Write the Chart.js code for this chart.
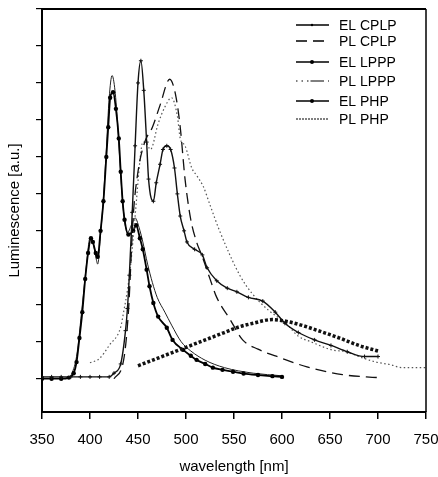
<!DOCTYPE html>
<html>
<head>
<meta charset="utf-8">
<script src="https://cdn.jsdelivr.net/npm/chart.js@4.4.0/dist/chart.umd.min.js"></script>
<style>
    html, body { margin: 0; padding: 0; background: #fff; }
</style>
</head>
<body>
<canvas id="plot" width="438" height="477"></canvas>
<script>
// series labels, in legend order
const seriesLabels = ['EL CPLP', 'PL CPLP', 'EL LPPP', 'PL LPPP', 'EL PHP', 'PL PHP'];
const xTicks = [350, 400, 450, 500, 550, 600, 650, 700, 750];
const yTicks = [0, 1, 2, 3, 4, 5, 6, 7, 8, 9, 10];

// EL CPLP
const elCplpNm = [350, 360, 370, 380, 390, 400, 410, 420, 425, 432, 437, 439, 441, 444, 447, 450, 453, 456, 459, 461, 466, 469, 473, 476, 480, 484, 488, 491, 494, 498, 501, 509, 517, 522, 532, 543, 553, 565, 580, 593, 603, 617, 634, 651, 668, 686, 700];
const elCplpLum = [0.05, 0.05, 0.05, 0.05, 0.05, 0.05, 0.05, 0.05, 0.15, 0.4, 1.3, 1.9, 2.8, 4.5, 6.3, 8.0, 8.6, 7.8, 6.4, 5.4, 4.8, 5.3, 5.8, 6.2, 6.3, 6.2, 5.7, 5.0, 4.4, 4.0, 3.7, 3.5, 3.35, 3.0, 2.65, 2.45, 2.35, 2.2, 2.1, 1.8, 1.5, 1.25, 1.05, 0.9, 0.73, 0.6, 0.6];

// PL CPLP
const plCplpNm = [425, 435, 440, 445, 450, 457, 465, 473, 483, 489, 494, 499, 505, 511, 517, 525, 532, 546, 559, 575, 598, 626, 663, 700];
const plCplpLum = [0, 0.5, 1.8, 4.4, 5.6, 6.4, 6.8, 7.4, 8.1, 7.7, 6.8, 5.4, 4.3, 3.7, 3.3, 2.7, 2.2, 1.6, 1.05, 0.8, 0.57, 0.32, 0.11, 0.03];

// EL LPPP
const elLpppNm = [450, 470, 485, 500, 520, 540, 555, 570, 590, 605, 620, 640, 660, 680, 700];
const elLpppLum = [0.35, 0.55, 0.7, 0.85, 1.05, 1.25, 1.4, 1.5, 1.6, 1.55, 1.45, 1.28, 1.1, 0.9, 0.75];

// PL LPPP
const plLpppNm = [400, 410, 420, 432, 435, 439, 442, 445, 448, 452, 455, 458, 463, 471, 478, 485, 491, 494, 499, 506, 511, 518, 525, 535, 556, 569, 586, 604, 617, 630, 652, 667, 680, 698, 713, 725, 735, 750];
const plLpppLum = [0.43, 0.55, 0.9, 1.4, 1.8, 2.4, 3.0, 3.8, 4.7, 5.9, 6.4, 6.4, 6.2, 6.9, 7.35, 7.6, 7.1, 6.5, 6.3, 5.7, 5.5, 5.2, 4.7, 4.0, 2.8, 2.3, 1.85, 1.5, 1.15, 1.0, 0.78, 0.73, 0.6, 0.45, 0.38, 0.3, 0.3, 0.3];

// EL PHP
const elPhpNm = [350, 360, 370, 378, 383, 386, 389, 392, 395, 398, 401, 403, 406, 408, 411, 414, 417, 419, 421, 424, 427, 430, 432, 434, 436, 440, 445, 448, 452, 455, 459, 462, 466, 471, 480, 486, 497, 505, 511, 520, 528, 538, 549, 560, 575, 590, 600];
const elPhpLum = [0, 0, 0, 0.03, 0.15, 0.45, 1.1, 1.8, 2.7, 3.4, 3.8, 3.7, 3.4, 3.3, 4.0, 4.8, 6.0, 6.8, 7.6, 7.75, 7.3, 6.5, 5.6, 4.8, 4.3, 3.9, 4.0, 4.15, 3.8, 3.5, 2.95, 2.5, 2.05, 1.68, 1.38, 1.05, 0.78, 0.62, 0.51, 0.4, 0.3, 0.24, 0.19, 0.14, 0.1, 0.07, 0.05];

// PL PHP
const plPhpNm = [380, 386, 392, 396, 400, 403, 406, 408, 411, 414, 417, 420, 423, 426, 429, 432, 435, 439, 443, 447, 451, 455, 460, 465, 470, 478, 485, 495, 505, 520, 540, 570, 600];
const plPhpLum = [0.05, 0.6, 2.0, 3.0, 3.8, 3.7, 3.3, 3.1, 3.9, 4.9, 6.2, 7.6, 8.2, 7.8, 6.8, 5.5, 4.5, 3.95, 4.15, 4.35, 4.1, 3.7, 3.1, 2.6, 2.2, 1.8, 1.45, 1.0, 0.75, 0.5, 0.3, 0.15, 0.08];

function pts(xs, ys) {
    return xs.map((x, i) => ({x: x, y: ys[i]}));
}

const FONT = '"Liberation Sans", Arial, sans-serif';

// top/right frame and the legend box in the upper right
const framePlugin = {
    id: 'frame',
    afterDraw(chart) {
        const ctx = chart.ctx;
        const a = chart.chartArea;
        ctx.save();
        ctx.strokeStyle = '#000';
        ctx.lineWidth = 2;
        ctx.beginPath();
        ctx.moveTo(a.left, a.top);
        ctx.lineTo(a.right, a.top);
        ctx.stroke();
        ctx.lineWidth = 1.5;
        ctx.beginPath();
        ctx.moveTo(a.right, a.top);
        ctx.lineTo(a.right, a.bottom);
        ctx.stroke();

        const rows = [25, 41, 62, 81, 101, 119];
        ctx.font = '14px ' + FONT;
        ctx.textBaseline = 'middle';
        ctx.fillStyle = '#000';
        chart.data.datasets.forEach((ds, i) => {
            const y = rows[i];
            ctx.strokeStyle = '#000';
            ctx.lineWidth = Math.min(ds.borderWidth, 1.5);
            ctx.setLineDash(ds.legendDash || []);
            ctx.beginPath();
            ctx.moveTo(296, y);
            ctx.lineTo(329, y);
            ctx.stroke();
            ctx.setLineDash([]);
            if (ds.legendDot) {
                ctx.beginPath();
                ctx.arc(312, y, ds.legendDot, 0, Math.PI * 2);
                ctx.fill();
            }
            ctx.fillText(ds.label, 339, y + 1);
        });
        ctx.restore();
    }
};

const data = {
    datasets: [
        {
            label: seriesLabels[0],
            data: pts(elCplpNm, elCplpLum),
            borderColor: '#111',
            backgroundColor: '#111',
            borderWidth: 1.4,
            pointStyle: 'cross',
            pointRadius: 2,
            pointBorderWidth: 1,
            legendDot: 1.2,
        },
        {
            label: seriesLabels[1],
            data: pts(plCplpNm, plCplpLum),
            borderColor: '#111',
            borderWidth: 1.3,
            borderDash: [11, 6],
            legendDash: [11, 6],
            pointRadius: 0,
        },
        {
            label: seriesLabels[2],
            data: pts(elLpppNm, elLpppLum),
            borderColor: '#111',
            borderWidth: 3.5,
            borderDash: [3, 2],
            pointRadius: 0,
            legendDot: 2,
        },
        {
            label: seriesLabels[3],
            data: pts(plLpppNm, plLpppLum),
            borderColor: '#555',
            borderWidth: 1.2,
            borderDash: [1.5, 2.5],
            legendDash: [1.5, 4, 1.5, 4, 1.5, 2, 12, 0],
            pointRadius: 0,
        },
        {
            label: seriesLabels[4],
            data: pts(elPhpNm, elPhpLum),
            borderColor: '#000',
            backgroundColor: '#000',
            borderWidth: 1.8,
            pointStyle: 'circle',
            pointRadius: 2.2,
            pointBorderWidth: 0,
            legendDot: 2,
        },
        {
            label: seriesLabels[5],
            data: pts(plPhpNm, plPhpLum),
            borderColor: '#222',
            borderWidth: 1,
            legendDash: [2, 1],
            pointRadius: 0,
        },
    ]
};

const config = {
    type: 'line',
    data: data,
    options: {
        responsive: false,
        animation: false,
        devicePixelRatio: 1,
        layout: {
            padding: {top: 9, right: 12, left: 0, bottom: 0}
        },
        elements: {
            line: {cubicInterpolationMode: 'monotone'}
        },
        plugins: {
            legend: {display: false},
            tooltip: {enabled: false}
        },
        scales: {
            x: {
                type: 'linear',
                min: 350,
                max: 750,
                afterBuildTicks: (scale) => {
                    scale.ticks = xTicks.map(v => ({value: v}));
                },
                afterFit: (scale) => {
                    scale.height = 65;
                    scale.paddingLeft = 0;
                    scale.paddingRight = 0;
                },
                border: {display: true, color: '#000', width: 2},
                grid: {
                    display: true,
                    drawOnChartArea: false,
                    drawTicks: true,
                    tickLength: 7,
                    color: '#000',
                    lineWidth: 1.5
                },
                ticks: {
                    color: '#000',
                    padding: 12,
                    maxRotation: 0,
                    font: {family: FONT, size: 15}
                },
                title: {
                    display: true,
                    text: 'wavelength [nm]',
                    color: '#000',
                    font: {family: FONT, size: 15},
                    padding: {top: 0, bottom: 1}
                }
            },
            y: {
                type: 'linear',
                min: -0.9,
                max: 10,
                afterBuildTicks: (scale) => {
                    scale.ticks = yTicks.map(v => ({value: v}));
                },
                afterFit: (scale) => {
                    scale.width = 42;
                    scale.paddingTop = 0;
                    scale.paddingBottom = 0;
                },
                border: {display: true, color: '#000', width: 2},
                grid: {
                    display: true,
                    drawOnChartArea: false,
                    drawTicks: true,
                    tickLength: 6,
                    color: '#000',
                    lineWidth: 1.2
                },
                ticks: {display: false},
                title: {
                    display: true,
                    text: 'Luminescence [a.u.]',
                    color: '#000',
                    font: {family: FONT, size: 15},
                    padding: {top: 6, bottom: 0}
                }
            }
        }
    },
    plugins: [framePlugin]
};

const chart = new Chart(document.getElementById('plot').getContext('2d'), config);
</script>
</body>
</html>
